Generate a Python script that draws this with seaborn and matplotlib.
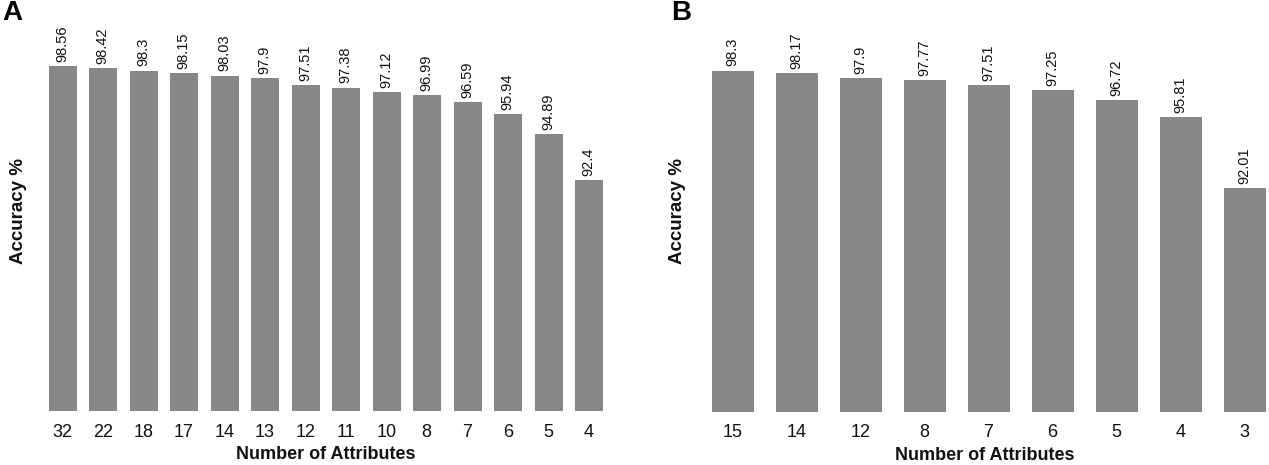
import matplotlib
matplotlib.use("Agg")
import matplotlib.pyplot as plt
import seaborn as sns
import pandas as pd

# Data
attrs_a = ["32", "22", "18", "17", "14", "13", "12", "11", "10", "8", "7", "6", "5", "4"]
acc_a = [98.56, 98.42, 98.3, 98.15, 98.03, 97.9, 97.51, 97.38, 97.12, 96.99, 96.59, 95.94, 94.89, 92.4]
labels_a = ["98.56", "98.42", "98.3", "98.15", "98.03", "97.9", "97.51", "97.38", "97.12", "96.99", "96.59", "95.94", "94.89", "92.4"]

attrs_b = ["15", "14", "12", "8", "7", "6", "5", "4", "3"]
acc_b = [98.3, 98.17, 97.9, 97.77, 97.51, 97.25, 96.72, 95.81, 92.01]
labels_b = ["98.3", "98.17", "97.9", "97.77", "97.51", "97.25", "96.72", "95.81", "92.01"]

sns.set_theme(style="white")
plt.rcParams['font.family'] = ['Liberation Sans', 'DejaVu Sans']

W, H = 1269, 465
fig = plt.figure(figsize=(W / 100, H / 100), dpi=100)

BAR = "#888888"

def px_axes(left, right, top, bottom):
    return fig.add_axes([left / W, 1 - bottom / H, (right - left) / W, (bottom - top) / H])

def panel(ax, attrs, acc, labels, width, xlim, letter, letter_x):
    df = pd.DataFrame({"attr": attrs, "acc": acc})
    sns.barplot(data=df, x="attr", y="acc", order=attrs, color=BAR, width=width,
                saturation=1, ax=ax, edgecolor="#7a7a7a", linewidth=0.6)
    ax.set_ylim(80, 101.5)
    ax.set_xlim(*xlim)
    for s in ax.spines.values():
        s.set_visible(False)
    ax.set_yticks([])
    ax.tick_params(axis="x", length=0, pad=9, labelsize=13, labelcolor="#111111")
    ax.set_xlabel("Number of Attributes", fontsize=13, fontweight="bold", color="#111111")
    ax.xaxis.set_label_coords(0.5, -0.088)
    ax.set_ylabel("Accuracy %", fontsize=13.5, fontweight="bold", color="#111111")
    ax.yaxis.set_label_coords(-0.026, 0.5)
    ax.bar_label(ax.containers[0], labels=labels, rotation=90, padding=3,
                 fontsize=10.5, color="#111111")
    fig.text(letter_x / W, 1 - 13 / H, letter, fontsize=20, fontweight="bold",
             ha="left", va="center", color="#000000")

ax_a = px_axes(42, 609, 11, 411)
panel(ax_a, attrs_a, acc_a, labels_a, 0.67, (-0.5, 13.5), "A", 2)

ax_b = px_axes(700.5, 1268.5, 11, 411.5)
panel(ax_b, attrs_b, acc_b, labels_b, 0.64, (-0.5, 8.38), "B", 671)

fig.savefig("out.png", dpi=100)
